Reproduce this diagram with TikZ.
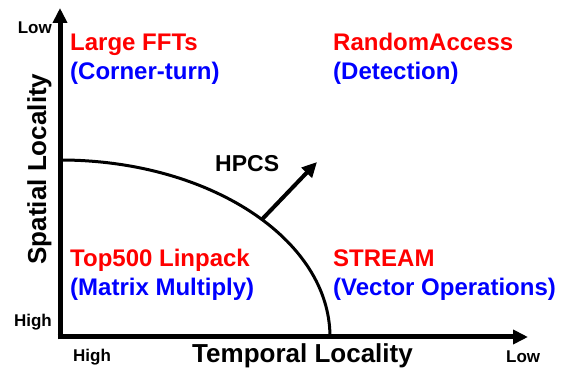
\documentclass[tikz,border=0pt]{standalone}
\usepackage{fontspec}
\setmainfont{Liberation Sans}
\usetikzlibrary{arrows.meta, positioning, calc}
\definecolor{cBench}{RGB}{255,0,0}
\definecolor{cKernel}{RGB}{0,0,255}
\tikzset{
	axis/.style     ={line width=5pt, -{Triangle[length=15pt, width=14pt]}},
	frontier/.style ={line width=3pt},
	pushout/.style  ={line width=4pt, -{Triangle[length=15pt, width=14pt]}},
	% benchmark names and their kernels
	bench/.style    ={anchor=base west, inner sep=0pt, text=cBench, font=\bfseries\fontsize{24}{28}\selectfont},
	kernel/.style   ={anchor=base west, inner sep=0pt, text=cKernel, font=\bfseries\fontsize{24}{28}\selectfont},
	% axis titles and end marks
	axistitle/.style={anchor=base, inner sep=0pt, font=\bfseries\fontsize{26}{30}\selectfont},
	endmark/.style  ={inner sep=0pt, font=\bfseries\fontsize{17}{20}\selectfont},
}
\begin{document}
\begin{tikzpicture}[x=1pt, y=1pt]
	\useasboundingbox (0,0) rectangle (569,371);
	% axes
	\coordinate (O) at (60,34);
	\coordinate (ytop) at (60,363);
	\coordinate (xend) at (528,34);
	\draw[axis] ($(O)+(0,-2.5)$) -- (ytop);
	\draw[axis] ($(O)+(-2.5,0)$) -- (xend);
	% locality frontier and its push outwards
	\draw[frontier] (60,211) arc[start angle=90, end angle=0, x radius=270pt, y radius=177pt];
	\coordinate (push) at ($(O)+(41.6:270pt and 177pt)$);
	\coordinate (pushtip) at (317,209);
	\draw[pushout] (push) -- (pushtip);
	\node[anchor=base west, inner sep=0pt, font=\bfseries\fontsize{23}{27}\selectfont] (hpcs) at (215,199) {HPCS};
	% quadrants
	\node[bench]  (fft)    at (70,320)  {Large FFTs};
	\node[kernel] (corner) at (70,291)  {(Corner-turn)};
	\node[bench]  (ra)     at (333,320) {RandomAccess};
	\node[kernel] (detect) at (333,291) {(Detection)};
	\node[bench]  (hpl)    at (70,104)  {Top500 Linpack};
	\node[kernel] (matmul) at (70,75)   {(Matrix Multiply)};
	\node[bench]  (stream) at (333,104) {STREAM};
	\node[kernel] (vecop)  at (333,75)  {(Vector Operations)};
	% axis titles
	\node[axistitle] (tloc) at (302.5,8) {Temporal Locality};
	\node[axistitle, rotate=90] (sloc) at (46,202) {Spatial Locality};
	\node[endmark, anchor=base east] (slow)  at (52,337) {Low};
	\node[endmark, anchor=base east] (shigh) at (52,44)  {High};
	\node[endmark, anchor=base west] (thigh) at (73,9)   {High};
	\node[endmark, anchor=base west] (tlow)  at (506,8)  {Low};
\end{tikzpicture}
\end{document}
